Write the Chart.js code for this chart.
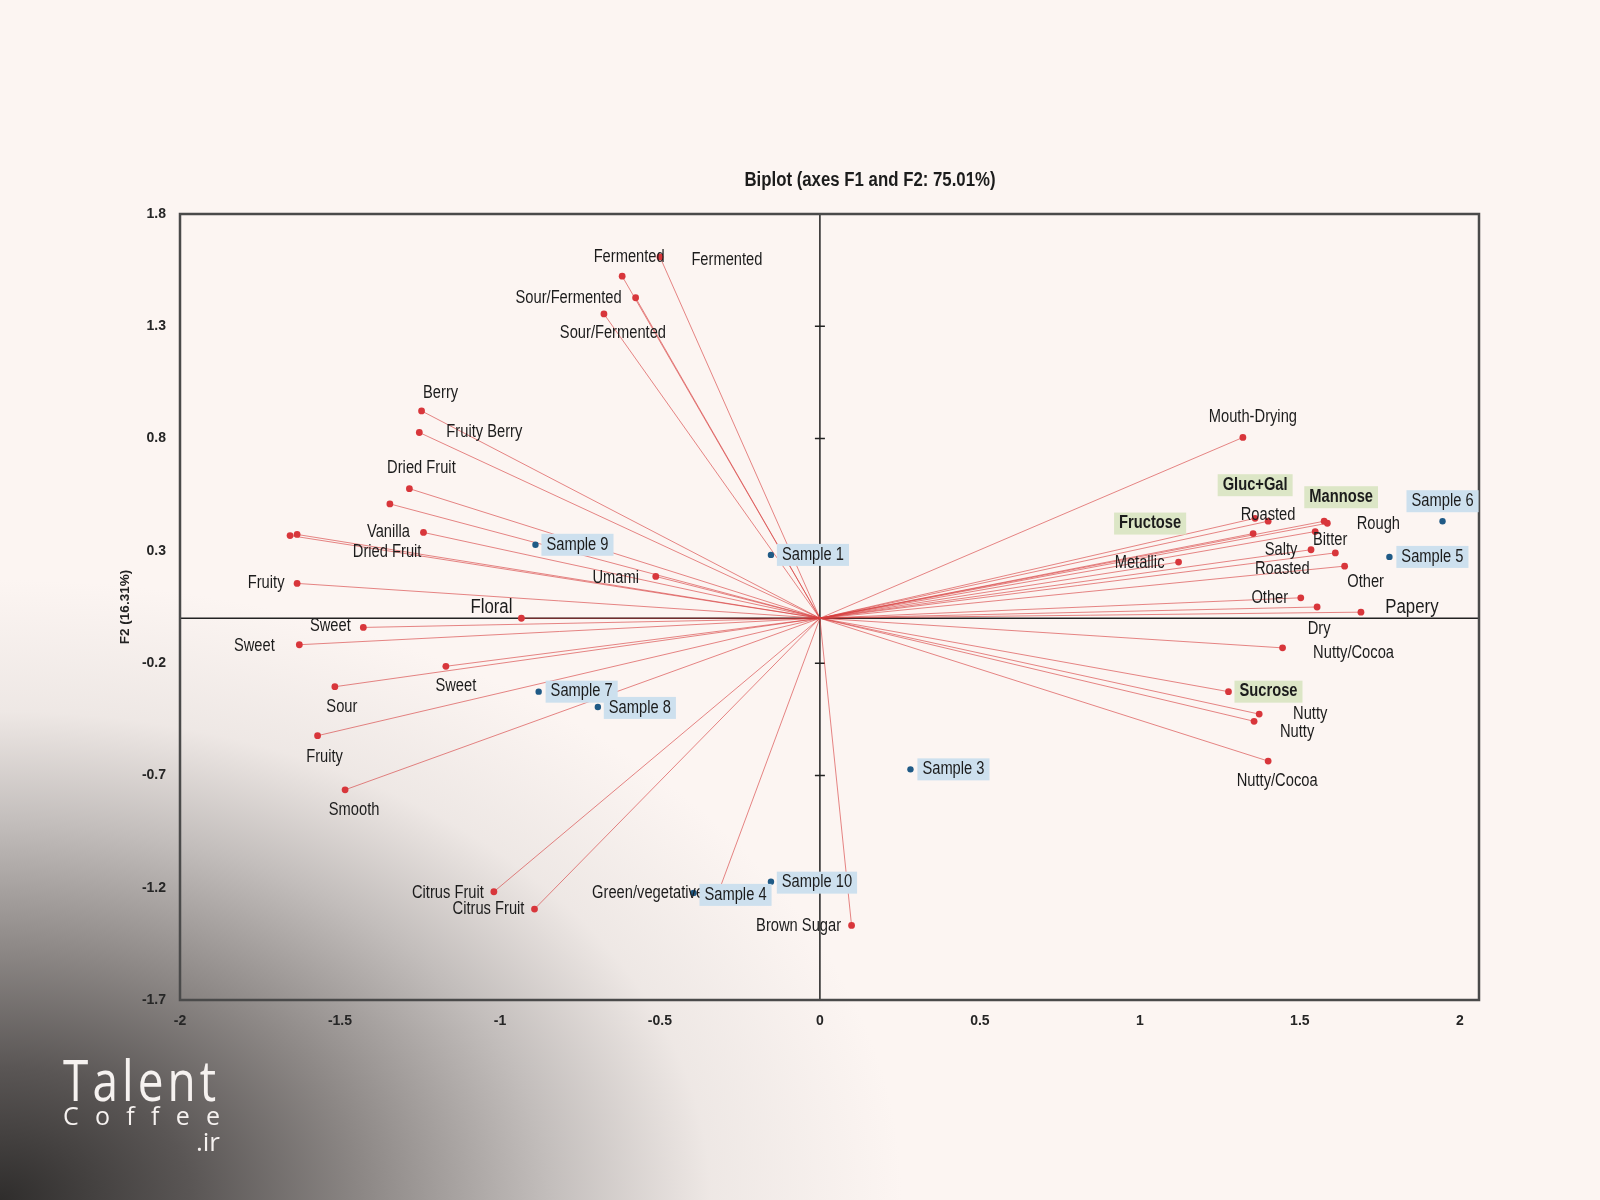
<!DOCTYPE html>
<html>
<head>
<meta charset="utf-8">
<title>Biplot</title>
<script src="https://cdn.jsdelivr.net/npm/chart.js@4.4.1/dist/chart.umd.min.js"></script>
<style>
  html, body { margin: 0; padding: 0; }
  body {
    width: 1600px; height: 1200px; overflow: hidden; position: relative;
    background:
      radial-gradient(ellipse 960px 660px at 0% 100%, #2f2d2c 0%, #5a5655 20%, #8d8886 38%, #c2bdbb 57%, rgba(232,226,223,0.7) 74%, rgba(252,245,242,0) 94%),
      #fcf5f2;
  }
  #chart { position: absolute; left: 0; top: 0; }
  .brand { position: absolute; color: #f6f2f0; font-family: "Open Sans", sans-serif; line-height: 1; transform-origin: 0 0; }
  .brand.t1 { left: 63px; top: 1051px; font-size: 56px; letter-spacing: 5px; transform: scaleX(0.82); }
  .brand.t2 { left: 63px; top: 1103px; width: 157px; font-size: 25px; text-align: justify; text-align-last: justify; }
  .brand.t3 { left: 120px; top: 1128px; width: 100px; font-size: 26px; text-align: right; }
</style>
</head>
<body>
<canvas id="chart" width="1600" height="1200"></canvas>
<div class="brand t1">Talent</div>
<div class="brand t2">C o f f e e</div>
<div class="brand t3">.ir</div>
<script>
  // axis ticks
  var xTicks = [-2, -1.5, -1, -0.5, 0, 0.5, 1, 1.5, 2];
  var yTicks = [-1.7, -1.2, -0.7, -0.2, 0.3, 0.8, 1.3, 1.8];

  // variables (red vectors)
  var varNames = ['Fermented', 'Fermented', 'Sour/Fermented', 'Sour/Fermented', 'Berry', 'Fruity Berry',
    'Dried Fruit', '', 'Vanilla', '', 'Dried Fruit', 'Fruity', 'Umami', 'Floral', 'Sweet', 'Sweet',
    'Sweet', 'Sour', 'Fruity', 'Smooth', 'Citrus Fruit', 'Citrus Fruit', 'Green/vegetative', 'Brown Sugar',
    'Mouth-Drying', 'Metallic', 'Roasted', 'Gluc+Gal', 'Fructose', 'Mannose', 'Rough', 'Bitter', 'Salty',
    'Roasted', 'Other', 'Other', 'Dry', 'Papery', 'Nutty/Cocoa', 'Sucrose', 'Nutty', 'Nutty', 'Nutty/Cocoa'];
  var varX = [-0.500, -0.618, -0.576, -0.675, -1.245, -1.252, -1.283, -1.344, -1.239, -1.656, -1.634,
    -1.634, -0.513, -0.933, -1.427, -1.627, -1.169, -1.516, -1.570, -1.484, -1.019, -0.892, -0.312, 0.099,
    1.322, 1.121, 1.360, 1.401, 1.354, 1.576, 1.586, 1.548, 1.535, 1.611, 1.640, 1.503, 1.554, 1.691,
    1.446, 1.277, 1.373, 1.357, 1.401];
  var varY = [1.609, 1.523, 1.427, 1.355, 0.923, 0.827, 0.577, 0.509, 0.382, 0.368, 0.373,
    0.155, 0.186, 0.000, -0.041, -0.118, -0.214, -0.305, -0.523, -0.764, -1.218, -1.295, -1.200, -1.368,
    0.805, 0.250, 0.445, 0.432, 0.377, 0.432, 0.423, 0.386, 0.305, 0.291, 0.232, 0.091, 0.050, 0.027,
    -0.132, -0.327, -0.427, -0.459, -0.636];
  // supplementary variables (green boxes)
  var supNames = ['Gluc+Gal', 'Fructose', 'Mannose', 'Sucrose'];

  // observations (blue points)
  var obsNames = ['Sample 1', 'Sample 3', 'Sample 4', 'Sample 5', 'Sample 6', 'Sample 7', 'Sample 8', 'Sample 9', 'Sample 10'];
  var obsX = [-0.153, 0.283, -0.395, 1.780, 1.946, -0.879, -0.694, -0.889, -0.153];
  var obsY = [0.282, -0.673, -1.223, 0.273, 0.432, -0.327, -0.395, 0.327, -1.173];

  // label placement (pixel offsets from the point)
  var varLabelOffset = [[67, 3], [7, -19], [-67, 0], [9, 19], [19, -18], [65, 0], [12, -20], [0, 0], [-35, 0],
    [0, 0], [90, 18], [-31, 0], [-40, 2], [-30, -11], [-33, -1], [-45, 1], [10, 20], [7, 20], [7, 21], [9, 20],
    [-46, 1], [-46, 0], [-72, 5], [-53, 1], [10, -20], [-39, 1], [13, -3], [-13, -36], [-103, -10], [17, -24],
    [51, 1], [15, 9], [-30, 0], [-53, 16], [21, 16], [-31, 0], [2, 22], [51, -5], [71, 5], [40, 0], [51, 0],
    [43, 11], [9, 20]];
  var obsLabelOffset = [[42, 0], [43, 0], [42, 2], [43, 0], [0, -20], [43, 0], [42, 1], [42, 0], [46, 1]];
  var bigLabels = ['Floral', 'Papery'];

  var labelFont = '"Liberation Sans", Arial, sans-serif';
  var squeeze = 0.84;   // the original uses a condensed face

  var datasets = [];
  datasets.push({
    label: 'Observations',
    data: obsX.map(function (x, i) { return { x: x, y: obsY[i] }; }),
    showLine: false,
    pointRadius: 3.2,
    pointBackgroundColor: '#1f5a86',
    pointBorderWidth: 0,
    order: 0
  });
  varNames.forEach(function (n, i) {
    datasets.push({
      label: n || 'var' + i,
      data: [{ x: 0, y: 0 }, { x: varX[i], y: varY[i] }],
      showLine: true,
      borderColor: 'rgba(214,62,62,0.62)',
      borderWidth: 1,
      pointRadius: [0, 3.4],
      pointBackgroundColor: '#d8363b',
      pointBorderWidth: 0,
      order: 1
    });
  });

  function narrowText(ctx, text, cx, cy, fill) {
    var w = ctx.measureText(text).width * squeeze;
    if (fill) {
      ctx.fillStyle = fill;
      ctx.fillRect(cx - w / 2 - 5, cy - 11, w + 10, 22);
    }
    ctx.save();
    ctx.translate(cx, cy);
    ctx.scale(squeeze, 1);
    ctx.fillStyle = '#1c1c1c';
    ctx.fillText(text, 0, 0);
    ctx.restore();
  }

  var biplotPlugin = {
    id: 'biplot',
    beforeDatasetsDraw: function (chart) {
      var ctx = chart.ctx, a = chart.chartArea, sx = chart.scales.x, sy = chart.scales.y;
      var x0 = sx.getPixelForValue(0), y0 = sy.getPixelForValue(0);
      ctx.save();
      ctx.strokeStyle = '#222';
      ctx.lineWidth = 1.5;
      ctx.beginPath();
      ctx.moveTo(a.left, y0); ctx.lineTo(a.right, y0);
      ctx.moveTo(x0, a.top); ctx.lineTo(x0, a.bottom);
      yTicks.forEach(function (v) {
        var py = sy.getPixelForValue(v);
        ctx.moveTo(x0 - 5, py); ctx.lineTo(x0 + 5, py);
      });
      ctx.stroke();
      ctx.strokeStyle = '#4a4a4a';
      ctx.lineWidth = 2.5;
      ctx.strokeRect(a.left, a.top, a.right - a.left, a.bottom - a.top);
      ctx.restore();
    },
    afterDatasetsDraw: function (chart) {
      var ctx = chart.ctx, sx = chart.scales.x, sy = chart.scales.y;
      ctx.save();
      ctx.textAlign = 'center';
      ctx.textBaseline = 'middle';
      varNames.forEach(function (n, i) {
        if (!n) return;
        var cx = sx.getPixelForValue(varX[i]) + varLabelOffset[i][0];
        var cy = sy.getPixelForValue(varY[i]) + varLabelOffset[i][1];
        var sup = supNames.indexOf(n) >= 0;
        var size = bigLabels.indexOf(n) >= 0 ? 20 : 17.5;
        ctx.font = (sup ? 'bold ' : '') + size + 'px ' + labelFont;
        narrowText(ctx, n, cx, cy, sup ? '#dce6c6' : null);
      });
      ctx.font = '17.5px ' + labelFont;
      obsNames.forEach(function (n, i) {
        var cx = sx.getPixelForValue(obsX[i]) + obsLabelOffset[i][0];
        var cy = sy.getPixelForValue(obsY[i]) + obsLabelOffset[i][1];
        narrowText(ctx, n, cx, cy, '#cde0ee');
      });
      // chart title
      ctx.font = 'bold 20px ' + labelFont;
      narrowText(ctx, 'Biplot (axes F1 and F2: 75.01%)', 870, 180, null);
      ctx.restore();
    }
  };

  var ctx = document.getElementById('chart').getContext('2d');
  var myChart = new Chart(ctx, {
    type: 'scatter',
    data: { datasets: datasets },
    plugins: [biplotPlugin],
    options: {
      responsive: false,
      animation: false,
      events: [],
      layout: { padding: { left: 110, right: 121, top: 214, bottom: 160 } },
      plugins: { legend: { display: false }, tooltip: { enabled: false } },
      scales: {
        x: {
          type: 'linear', min: -2, max: 2.06,
          afterBuildTicks: function (s) { s.ticks = xTicks.map(function (v) { return { value: v }; }); },
          afterFit: function (s) { s.height = 40; },
          grid: { display: false, drawTicks: false },
          border: { display: false },
          ticks: {
            autoSkip: false, maxRotation: 0, padding: 13, color: '#262626',
            font: { family: 'Liberation Sans', size: 14, weight: 'bold' },
            callback: function (v) { return String(v); }
          }
        },
        y: {
          type: 'linear', min: -1.7, max: 1.8,
          afterBuildTicks: function (s) { s.ticks = yTicks.map(function (v) { return { value: v }; }); },
          afterFit: function (s) { s.width = 70; },
          grid: { display: false, drawTicks: false },
          border: { display: false },
          ticks: {
            autoSkip: false, padding: 14, color: '#262626',
            font: { family: 'Liberation Sans', size: 14, weight: 'bold' },
            callback: function (v) { return String(v); }
          },
          title: {
            display: true, text: 'F2 (16.31%)', color: '#222',
            font: { family: 'Liberation Sans', size: 13.5, weight: 'bold' },
            padding: { top: 7, bottom: 0 }
          }
        }
      }
    }
  });
</script>
</body>
</html>
